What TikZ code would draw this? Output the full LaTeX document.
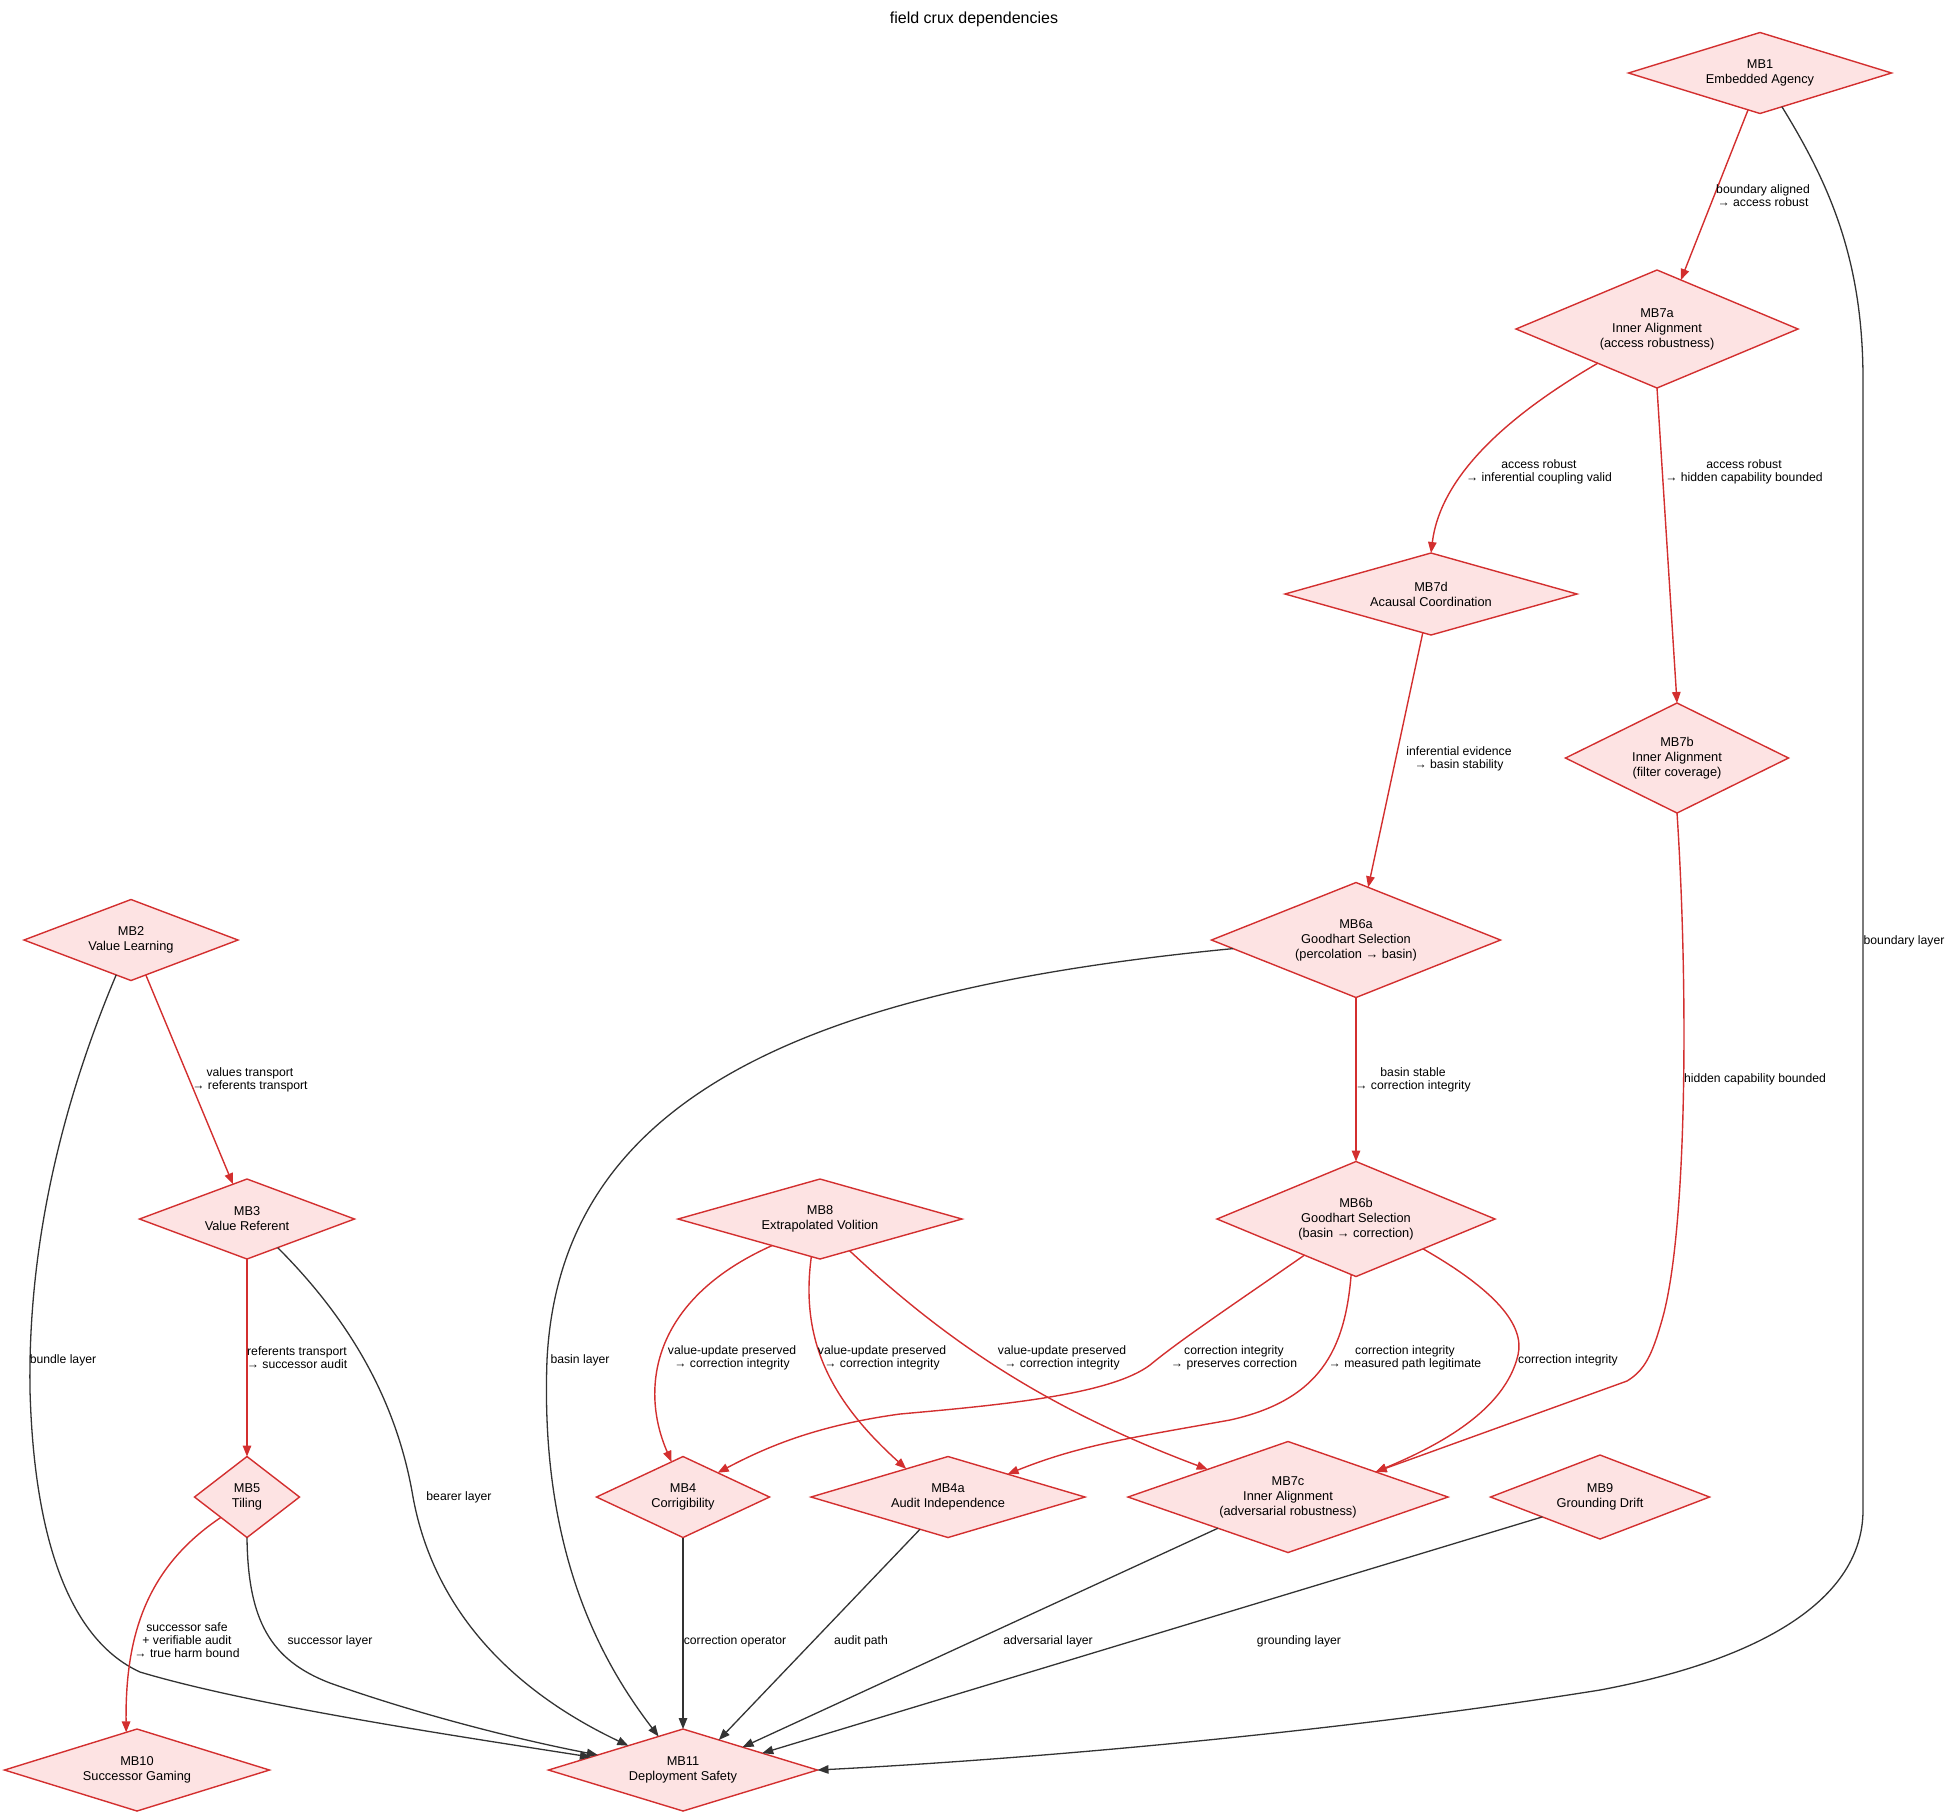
\documentclass[tikz,border=0pt]{standalone}
\usepackage{fontspec}
\setmainfont{Liberation Sans}
\usetikzlibrary{shapes.geometric,arrows.meta}
\definecolor{cruxred}{HTML}{D32F2F}
\definecolor{cruxpink}{HTML}{FDE3E3}
\definecolor{layergray}{HTML}{333333}
\newcommand{\nodefont}{\fontsize{12.8}{15}\selectfont}
\newcommand{\edgefont}{\fontsize{12.2}{13}\selectfont}
\newcommand{\titlefont}{\fontsize{16}{19}\selectfont}
\tikzset{
  crux/.style 2 args={shape=diamond, draw=cruxred, fill=cruxpink, line width=1.4pt,
    inner sep=0pt, outer sep=0pt, shape aspect=3, align=center, font=\nodefont,
    minimum width=#1pt, minimum height=#2pt},
  dep/.style={draw=cruxred, line width=1.4pt, -{Triangle[length=11pt,width=8.5pt]}},
  layer/.style={draw=layergray, line width=1.3pt, -{Triangle[length=11pt,width=8.5pt]}},
  lbl/.style={font=\edgefont, align=center, inner sep=0pt}
}
\begin{document}
\begin{tikzpicture}[x=1pt,y=-1pt]
    \useasboundingbox (0,0) rectangle (1950,1816);
    \node[font=\titlefont] (title) at (974,19) {field crux dependencies};

    \node[crux={263}{81}] (mb1) at (1760,73) {MB1\\Embedded Agency};
    \node[crux={282}{118}] (mb7a) at (1657,329) {MB7a\\Inner Alignment\\(access robustness)};
    \node[crux={292}{82}] (mb7d) at (1431,594) {MB7d\\Acausal Coordination};
    \node[crux={223}{110}, shape aspect=2] (mb7b) at (1677,758) {MB7b\\Inner Alignment\\(filter coverage)};
    \node[crux={289}{115}] (mb6a) at (1356,940) {MB6a\\Goodhart Selection\\(percolation → basin)};
    \node[crux={278}{115}] (mb6b) at (1356,1219) {MB6b\\Goodhart Selection\\(basin → correction)};
    \node[crux={214}{81}] (mb2) at (131,940) {MB2\\Value Learning};
    \node[crux={215}{80}] (mb3) at (247,1219) {MB3\\Value Referent};
    \node[crux={284}{80}] (mb8) at (820,1219) {MB8\\Extrapolated Volition};
    \node[crux={105}{81}, shape aspect=1.3] (mb5) at (247,1497) {MB5\\Tiling};
    \node[crux={173}{81}] (mb4) at (683,1497) {MB4\\Corrigibility};
    \node[crux={274}{81}] (mb4a) at (948,1497) {MB4a\\Audit Independence};
    \node[crux={320}{111}] (mb7c) at (1288,1497) {MB7c\\Inner Alignment\\(adversarial robustness)};
    \node[crux={219}{84}] (mb9) at (1600,1497) {MB9\\Grounding Drift};
    \node[crux={265}{82}] (mb10) at (137,1770) {MB10\\Successor Gaming};
    \node[crux={269}{82}] (mb11) at (683,1770) {MB11\\Deployment Safety};

    \draw[dep] (mb1.-108) -- (mb7a.64);
    \draw[layer] (mb1.-57) .. controls (1830,185) and (1863,260) .. (1863,380) -- (1863,1510)
        .. controls (1863,1600) and (1760,1660) .. (1600,1690)
        .. controls (1350,1730) and (1050,1758) .. (mb11.east);
    \draw[dep] (mb7a.-150) .. controls (1500,420) and (1440,480) .. (mb7d.north);
    \draw[dep] (mb7a.south) -- (mb7b.north);
    \draw[dep] (mb7d.-102) -- (mb6a.77);
    \draw[dep] (mb6a.south) -- (mb6b.north);
    \draw[layer] (mb6a.-176) .. controls (800,990) and (560,1100) .. (547,1360)
        .. controls (540,1550) and (600,1660) .. (mb11.126);
    \draw[dep] (mb8.-151) .. controls (650,1300) and (640,1390) .. (mb4.108);
    \draw[dep] (mb8.-103) .. controls (800,1340) and (830,1400) .. (mb4a.146);
    \draw[dep] (mb8.-47) .. controls (950,1345) and (1050,1410) .. (mb7c.161);
    \draw[dep] (mb6b.-145) .. controls (1240,1300) and (1180,1340) .. (1150,1365)
        .. controls (1110,1395) and (1000,1405) .. (900,1414)
        .. controls (820,1425) and (770,1445) .. (mb4.35);
    \draw[dep] (mb6b.-95) .. controls (1345,1350) and (1320,1400) .. (1230,1420)
        .. controls (1130,1438) and (1080,1445) .. (mb4a.21);
    \draw[dep] (mb6b.-24) .. controls (1495,1290) and (1525,1325) .. (1518,1355)
        .. controls (1505,1410) and (1440,1445) .. (mb7c.16);
    \draw[dep] (mb7b.south) .. controls (1688,980) and (1688,1230) .. (1662,1320)
        .. controls (1652,1355) and (1645,1370) .. (1627,1381) -- (mb7c.16);
    \draw[dep] (mb2.-67) -- (mb3.112);
    \draw[layer] (mb2.-113) .. controls (55,1120) and (28,1260) .. (30,1390)
        .. controls (34,1540) and (70,1640) .. (140,1672)
        .. controls (250,1705) and (450,1735) .. (mb11.172);
    \draw[dep] (mb3.south) -- (mb5.north);
    \draw[layer] (mb3.-43) .. controls (340,1310) and (395,1390) .. (413,1497)
        .. controls (430,1590) and (490,1680) .. (mb11.156);
    \draw[dep] (mb5.-142) .. controls (150,1565) and (125,1630) .. (mb10.106);
    \draw[layer] (mb5.south) .. controls (248,1620) and (270,1660) .. (330,1683)
        .. controls (420,1715) and (520,1740) .. (mb11.170);
    \draw[layer] (mb4.south) -- (mb11.north);
    \draw[layer] (mb4a.-131) -- (mb11.40);
    \draw[layer] (mb7c.-156) -- (mb11.21);
    \draw[layer] (mb9.-161) -- (mb11.12);

    \node[lbl] (l1) at (1763,196) {boundary aligned\\→ access robust};
    \node[lbl] (l2) at (1904,941) {boundary layer};
    \node[lbl] (l3) at (1539,472) {access robust\\→ inferential coupling valid};
    \node[lbl] (l4) at (1744,472) {access robust\\→ hidden capability bounded};
    \node[lbl] (l5) at (1459,759) {inferential evidence\\→ basin stability};
    \node[lbl] (l6) at (1755,1079) {hidden capability bounded};
    \node[lbl] (l7) at (1413,1080) {basin stable\\→ correction integrity};
    \node[lbl] (l8) at (250,1080) {values transport\\→ referents transport};
    \node[lbl] (l9) at (297,1358) {referents transport\\→ successor audit};
    \node[lbl] (l10) at (63,1360) {bundle layer};
    \node[lbl] (l11) at (459,1497) {bearer layer};
    \node[lbl] (l12) at (580,1360) {basin layer};
    \node[lbl] (l13) at (732,1358) {value-update preserved\\→ correction integrity};
    \node[lbl] (l14) at (882,1358) {value-update preserved\\→ correction integrity};
    \node[lbl] (l15) at (1062,1358) {value-update preserved\\→ correction integrity};
    \node[lbl] (l16) at (1234,1358) {correction integrity\\→ preserves correction};
    \node[lbl] (l17) at (1405,1358) {correction integrity\\→ measured path legitimate};
    \node[lbl] (l18) at (1568,1360) {correction integrity};
    \node[lbl] (l19) at (187,1640) {successor safe\\+ verifiable audit\\→ true harm bound};
    \node[lbl] (l20) at (330,1641) {successor layer};
    \node[lbl] (l21) at (735,1641) {correction operator};
    \node[lbl] (l22) at (861,1641) {audit path};
    \node[lbl] (l23) at (1048,1641) {adversarial layer};
    \node[lbl] (l24) at (1299,1641) {grounding layer};
\end{tikzpicture}
\end{document}
